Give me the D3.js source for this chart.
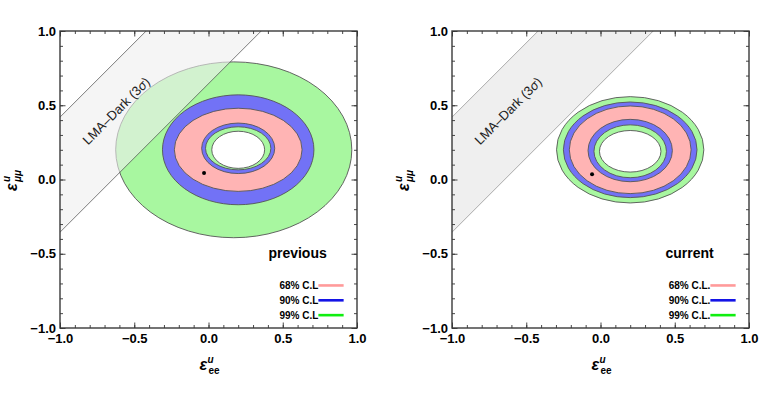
<!DOCTYPE html>
<html>
<head>
<meta charset="utf-8">
<script src="https://cdn.jsdelivr.net/npm/d3@7"></script>
<style>
body { margin: 0; background: #fff; }
text { font-family: "Liberation Sans", Arial, sans-serif; }
</style>
</head>
<body>
<script>
var width = 761, height = 398;

// contours: [name, cx, cy, rx, ry], drawn outside -> inside
var prevContours = [
  ["99", 0.17, 0.20, 0.795, 0.592],
  ["90", 0.20, 0.20, 0.51, 0.37],
  ["68", 0.20, 0.20, 0.43, 0.28],
  ["90", 0.20, 0.21, 0.246, 0.17],
  ["99", 0.20, 0.21, 0.22, 0.145],
  ["hole", 0.20, 0.20, 0.178, 0.125]
];
var currContours = [
  ["99", 0.20, 0.20, 0.496, 0.358],
  ["90", 0.20, 0.20, 0.45, 0.322],
  ["68", 0.20, 0.20, 0.41, 0.295],
  ["90", 0.20, 0.195, 0.284, 0.21],
  ["99", 0.20, 0.19, 0.244, 0.178],
  ["hole", 0.20, 0.19, 0.207, 0.14]
];
var prevBest = [-0.03, 0.044];
var currBest = [-0.057, 0.035];

// LMA-Dark band: y = x + c, between the two offsets
var bandOffsets = [1.42, 0.645];

var majorTicks = [-1, -0.5, 0, 0.5, 1];
var minorTicks = d3.range(-10, 11).map(function(d) { return d / 10; });

var levels = ["68", "90", "99"];
var prevLegend = ["68% C.L", "90% C.L", "99% C.L"];
var currLegend = ["68% C.L.", "90% C.L.", "99% C.L."];

var fills = { "68": "#ffb4b4", "90": "#7272f6", "99": "#a8f7a0", "hole": "#ffffff" };
var legendColors = { "68": "#ff9a9a", "90": "#1414e6", "99": "#10ee10" };

var svg = d3.select("body").append("svg")
    .attr("width", width)
    .attr("height", height);

var fmt = function(d) { return d3.format(".1f")(d).replace("-", "\u2212"); };

function panel(left, contours, best, title, legend, bandOnTop) {
  var size = 297, top = 31;
  var x = d3.scaleLinear().domain([-1, 1]).range([left, left + size]);
  var y = d3.scaleLinear().domain([-1, 1]).range([top + size, top]);
  var g = svg.append("g");
  var clipId = "clip" + left;

  g.append("clipPath").attr("id", clipId)
    .append("rect")
      .attr("x", left).attr("y", top)
      .attr("width", size).attr("height", size);

  var plot = g.append("g").attr("clip-path", "url(#" + clipId + ")");

  function drawBand() {
    var pts = [[-2, -2 + bandOffsets[0]], [2, 2 + bandOffsets[0]],
               [2, 2 + bandOffsets[1]], [-2, -2 + bandOffsets[1]]];
    plot.append("path")
        .attr("d", d3.line().x(function(d) { return x(d[0]); }).y(function(d) { return y(d[1]); })(pts) + "Z")
        .attr("fill", "#efefef")
        .attr("fill-opacity", bandOnTop ? 0.6 : 1);
    bandOffsets.forEach(function(c) {
      plot.append("line")
          .attr("x1", x(-2)).attr("y1", y(-2 + c))
          .attr("x2", x(2)).attr("y2", y(2 + c))
          .attr("stroke", bandOnTop ? "#444" : "#888").attr("stroke-width", 0.7);
    });
  }

  if (!bandOnTop) drawBand();

  plot.selectAll("ellipse.c").data(contours).enter().append("ellipse")
      .attr("class", "c")
      .attr("cx", function(d) { return x(d[1]); })
      .attr("cy", function(d) { return y(d[2]); })
      .attr("rx", function(d) { return x(d[3]) - x(0); })
      .attr("ry", function(d) { return y(0) - y(d[4]); })
      .attr("fill", function(d) { return fills[d[0]]; })
      .attr("stroke", "#555")
      .attr("stroke-width", 0.9);

  if (bandOnTop) drawBand();

  plot.append("circle")
      .attr("cx", x(best[0])).attr("cy", y(best[1]))
      .attr("r", 2).attr("fill", "#000");

  // band label
  var lx = x(-0.60), ly = y(0.44);
  g.append("text")
      .attr("transform", "translate(" + lx + "," + ly + ") rotate(-45)")
      .attr("text-anchor", "middle")
      .attr("font-size", 13)
      .attr("fill", "#222")
      .text("LMA\u2013Dark (3")
    .append("tspan").attr("font-style", "italic").text("\u03c3")
    .select(function() { return this.parentNode; })
    .append("tspan").text(")");

  // axes
  function axisGroup(axis, tx, ty, ticks, len, labels) {
    var a = g.append("g").attr("transform", "translate(" + tx + "," + ty + ")")
        .call(axis.tickValues(ticks).tickSize(-len).tickPadding(labels ? 6 : 0)
          .tickFormat(labels ? fmt : ""));
    a.select(".domain").remove();
    a.selectAll("line").attr("stroke", "#333").attr("stroke-width", 0.9);
    a.selectAll("text").attr("font-size", 13).attr("font-weight", "bold")
        .attr("fill", "#000").attr("font-family", "Liberation Sans, Arial, sans-serif");
    return a;
  }
  axisGroup(d3.axisBottom(x), 0, top + size, minorTicks, 3, false);
  axisGroup(d3.axisBottom(x), 0, top + size, majorTicks, 5.5, true);
  axisGroup(d3.axisTop(x), 0, top, minorTicks, 3, false);
  axisGroup(d3.axisTop(x), 0, top, majorTicks, 5.5, false);
  axisGroup(d3.axisLeft(y), left, 0, minorTicks, 3, false);
  axisGroup(d3.axisLeft(y), left, 0, majorTicks, 5.5, true)
      .selectAll("text").attr("x", -4);
  axisGroup(d3.axisRight(y), left + size, 0, minorTicks, 3, false);
  axisGroup(d3.axisRight(y), left + size, 0, majorTicks, 5.5, false);

  g.append("rect")
      .attr("x", left).attr("y", top)
      .attr("width", size).attr("height", size)
      .attr("fill", "none").attr("stroke", "#3a3a3a").attr("stroke-width", 1.4);

  // title
  g.append("text")
      .attr("x", x(0.6)).attr("y", y(-0.53))
      .attr("text-anchor", "middle")
      .attr("font-size", 14).attr("font-weight", "bold")
      .text(title);

  // legend
  var ly0 = [-0.7, -0.8, -0.9];
  levels.forEach(function(lv, i) {
    var yy = y(ly0[i]) + 2;
    g.append("text")
        .attr("x", x(0.74)).attr("y", yy + 3.5)
        .attr("text-anchor", "end")
        .attr("font-size", 10).attr("font-weight", "bold")
        .text(legend[i]);
    g.append("line")
        .attr("x1", x(0.74)).attr("x2", x(0.91))
        .attr("y1", yy).attr("y2", yy)
        .attr("stroke", legendColors[lv]).attr("stroke-width", 2.6);
  });

  // x label
  var xl = g.append("g").attr("transform", "translate(" + (x(0) - 9) + ",370)");
  xl.append("text").attr("font-size", 16).attr("font-weight", "bold").attr("font-style", "italic").text("\u03b5");
  xl.append("text").attr("x", 8).attr("y", -7).attr("font-size", 10).attr("font-weight", "bold").attr("font-style", "italic").text("u");
  xl.append("text").attr("x", 9).attr("y", 4).attr("font-size", 10).attr("font-weight", "bold").text("ee");

  // y label
  var yg = g.append("g").attr("transform", "translate(" + (left - 43) + ",191) rotate(-90)");
  yg.append("text").attr("font-size", 16).attr("font-weight", "bold").attr("font-style", "italic").text("\u03b5");
  yg.append("text").attr("x", 9).attr("y", -7).attr("font-size", 10).attr("font-weight", "bold").attr("font-style", "italic").text("u");
  yg.append("text").attr("x", 9).attr("y", 4).attr("font-size", 10).attr("font-weight", "bold").attr("font-style", "italic").text("\u03bc\u03bc");
}

panel(60, prevContours, prevBest, "previous", prevLegend, true);
panel(452, currContours, currBest, "current", currLegend, false);
</script>
</body>
</html>
